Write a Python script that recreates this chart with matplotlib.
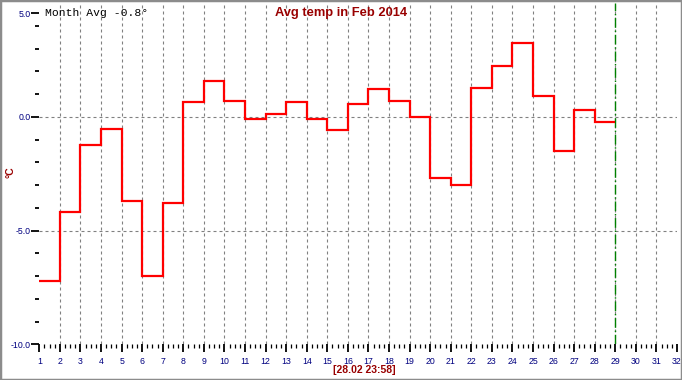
import numpy as np
import matplotlib
matplotlib.use("Agg")
import matplotlib.pyplot as plt
from matplotlib.patches import Rectangle

# daily average temperature, Feb 2014 (value held over each day)
days = list(range(1, 29))
temps = [-7.2, -4.2, -1.25, -0.55, -3.7, -7.0, -3.8, 0.65, 1.55, 0.7,
         -0.1, 0.1, 0.65, -0.1, -0.6, 0.55, 1.2, 0.7, 0.0, -2.7,
         -3.0, 1.25, 2.25, 3.25, 0.9, -1.5, 0.3, -0.25]
month_avg = -0.8
now_day = 29
now_label = "[28.02 23:58]"

y_major = [-10, -5, 0]
y_labels = ["-10.0", "-5.0", "0.0"]

fig = plt.figure(figsize=(6.82, 3.80), dpi=100)
fig.patch.set_facecolor("white")
fig.patches.append(Rectangle((0, 0), 1, 1, transform=fig.transFigure,
                             fill=False, edgecolor="#8c8c8c", lw=2.5))

W, H = 682, 380
ax = fig.add_axes([39.3 / W, 1 - 344.3 / H, (677 - 39.3) / W, (344.3 - 3) / H])
ax.set_xlim(1, 32)
ax.set_ylim(-10, 5)
for s in ax.spines.values():
    s.set_visible(False)

# grid lines
grid_ls = (0, (2.7, 2.7))
for d in range(2, 32):
    ax.axvline(d, color="#808080", lw=0.8, ls=grid_ls, zorder=1)
for v in [0, -5]:
    ax.axhline(v, color="#808080", lw=0.8, ls=grid_ls, zorder=1)

# current time marker
ax.axvline(now_day, color="#008000", lw=1.0, ls=(0, (7, 2, 1, 2)), zorder=2)

# temperature steps
edges = np.array(days + [days[-1] + 1])
ax.stairs(temps, edges, baseline=None, color="#ff0000", lw=1.6, zorder=3)

# x ticks
ax.set_xticks(range(1, 33))
ax.set_xticks(np.arange(1, 32.01, 0.25), minor=True)
ax.tick_params(axis="x", which="major", direction="out", length=6, width=1.3,
               color="black", labelsize=6.3, labelcolor="#000080", pad=3)
ax.tick_params(axis="x", which="minor", direction="out", length=3, width=0.9,
               color="black")

# y ticks (top label sits a bit below the top edge in the original)
ax.set_yticks(y_major + [4.56])
ax.set_yticklabels(y_labels + ["5.0"])
ax.set_yticks([v for v in range(-9, 5) if v % 5 != 0], minor=True)
ax.tick_params(axis="y", which="major", direction="out", length=5.5, width=1.3,
               color="black", labelsize=6.3, labelcolor="#000080", pad=1)
ax.tick_params(axis="y", which="minor", direction="out", length=3, width=1.3,
               color="black")
for lab in ax.get_xticklabels() + ax.get_yticklabels():
    lab.set_fontfamily("Liberation Sans")

# texts
fig.text(341 / W, 1 - 13 / H, "Avg temp in Feb 2014", ha="center", va="center",
         fontsize=9.3, fontweight="bold", color="#990000", family="Liberation Sans")
fig.text(45 / W, 1 - 13 / H, f"Month Avg {month_avg:.1f}°", ha="left", va="center",
         fontsize=8.2, color="black", family="Liberation Mono")
fig.text(364.5 / W, 1 - 370 / H, now_label, ha="center", va="center",
         fontsize=7.5, fontweight="bold", color="#990000", family="Liberation Sans")
fig.text(10 / W, 1 - 172 / H, "°C", ha="center", va="center", rotation=90,
         fontsize=7.5, fontweight="bold", color="#990000", family="Liberation Sans")

fig.savefig("out.png", dpi=100)
